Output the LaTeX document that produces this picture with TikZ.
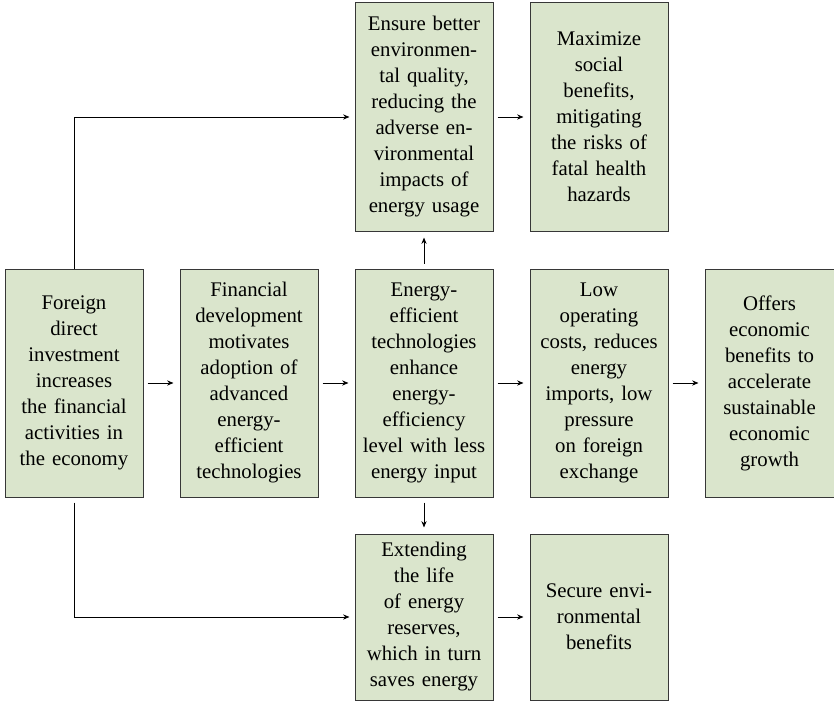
\documentclass[tikz,border=0pt]{standalone}
\usepackage{fontspec}
\setmainfont{Liberation Serif}
\usetikzlibrary{arrows.meta,positioning}
\definecolor{boxgreen}{RGB}{218,229,204}
\definecolor{boxline}{RGB}{55,55,55}
\tikzset{every picture/.style={line width=0.5pt}}

\begin{document}
\begin{tikzpicture}[node distance=18pt, font=\fontsize{10.4}{13}\selectfont,
    box/.style={draw=boxline, fill=boxgreen, align=center, text width=64pt, minimum width=69pt, minimum height=114pt, inner sep=2.5pt},
    lowbox/.style={box, minimum height=83pt},
    arr/.style={-{Stealth[length=3.2pt,width=2.6pt]}, shorten <=2pt, shorten >=3pt}]
    \useasboundingbox (0,0) rectangle (417pt,-350.5pt);

    \node[box] (fdi) at (37pt,-191.5pt) {Foreign\\ direct\\ investment\\ increases\\ the financial\\ activities in\\ the economy};
    \node[box, right=of fdi] (fin) {Financial\\ development\\ motivates\\ adoption of\\ advanced\\ energy-\\ efficient\\ technologies};
    \node[box, right=of fin] (tech) {Energy-\\ efficient\\ technologies\\ enhance\\ energy-\\ efficiency\\ level with less\\ energy input};
    \node[box, right=of tech] (cost) {Low\\ operating\\ costs, reduces\\ energy\\ imports, low\\ pressure\\ on foreign\\ exchange};
    \node[box, right=of cost, minimum width=64.5pt, text width=59.5pt] (econ) {Offers\\ economic\\ benefits to\\ accelerate\\ sustainable\\ economic\\ growth};

    \node[box, above=18.5pt of tech] (envq) {Ensure better\\ environmen-\\ tal quality,\\ reducing the\\ adverse en-\\ vironmental\\ impacts of\\ energy usage};
    \node[box, right=of envq] (social) {Maximize\\ social\\ benefits,\\ mitigating\\ the risks of\\ fatal health\\ hazards};

    \node[lowbox, below=of tech] (life) {Extending\\ the life\\ of energy\\ reserves,\\ which in turn\\ saves energy};
    \node[lowbox, right=of life] (secure) {Secure envi-\\ ronmental\\ benefits};

    \draw[arr] (fdi) -- (fin);
    \draw[arr] (fin) -- (tech);
    \draw[arr] (tech) -- (cost);
    \draw[arr] (cost) -- (econ);
    \draw[arr, shorten <=2.5pt] (tech) -- (envq);
    \draw[arr, shorten <=2.5pt] (tech) -- (life);
    \draw[arr] (envq) -- (social);
    \draw[arr] (life) -- (secure);

    \draw[arr, shorten <=0pt, shorten >=2.5pt] (fdi.north) |- (envq.west);
    \draw[arr, shorten <=2.5pt, shorten >=2.5pt] (fdi.south) |- (life.west);
\end{tikzpicture}
\end{document}
